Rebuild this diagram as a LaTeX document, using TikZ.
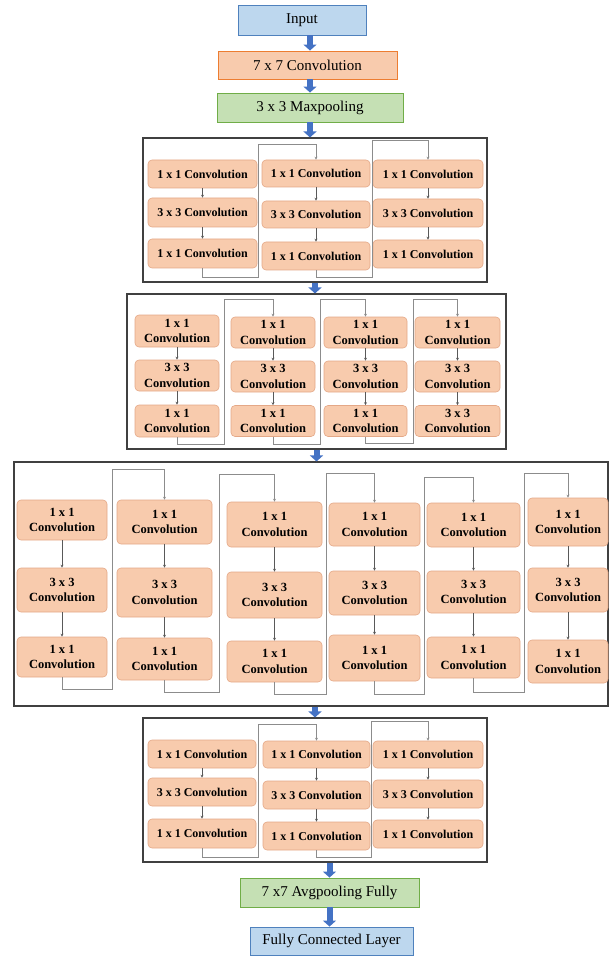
\documentclass[tikz,border=0pt]{standalone}
\usepackage{fontspec}
\setmainfont{Liberation Serif}
\usetikzlibrary{arrows.meta}
\definecolor{convfill}{HTML}{F8CBAD}
\definecolor{convline}{HTML}{ED7D31}
\definecolor{convedge}{HTML}{E4A887}
\definecolor{poolfill}{HTML}{C5E0B4}
\definecolor{poolline}{HTML}{70AD47}
\definecolor{infill}{HTML}{BDD7EE}
\definecolor{inline}{HTML}{4F81BD}
\definecolor{arrowblue}{HTML}{4472C4}

\tikzset{
  topbox/.style={draw, line width=0.9pt, inner sep=0pt, font=\fontsize{15}{17}\selectfont},
  inbox/.style={topbox, fill=infill, draw=inline},
  convtop/.style={topbox, fill=convfill, draw=convline},
  poolbox/.style={topbox, fill=poolfill, draw=poolline},
  layer/.style={fill=convfill, draw=convedge, line width=0.6pt, rounded corners=4pt, inner sep=0pt,
    font=\fontsize{12}{14}\selectfont\bfseries},
  layertwo/.style={layer, align=center, font=\fontsize{12.5}{15.5}\selectfont\bfseries},
  stage/.style={draw=black!75, line width=1.1pt, inner sep=0pt},
  bigarrow/.style={draw=arrowblue, line width=6pt, -{Triangle[length=6pt,width=13pt]}},
  flow/.style={draw=black!65, line width=0.6pt, -{Stealth[length=3pt,width=3pt]}},
  skip/.style={draw=black!45, line width=0.7pt, -{Stealth[length=3pt,width=3pt]}}
}

\begin{document}
\begin{tikzpicture}[x=1pt,y=-1pt]
  \useasboundingbox (0,0) rectangle (609,957);

  % input and stem
  \node[inbox, minimum width=128pt, minimum height=30pt] (in) at (302,20) {Input};
  \node[convtop, minimum width=179pt, minimum height=28pt] (c7) at (307.5,65) {7 x 7 Convolution};
  \node[poolbox, minimum width=186pt, minimum height=29pt] (mp) at (310,107.5) {3 x 3 Maxpooling};

  % stage frames
  \node[stage, minimum width=344pt, minimum height=144pt] (B1) at (315,210) {};
  \node[stage, minimum width=379pt, minimum height=155pt] (B2) at (316.5,371.5) {};
  \node[stage, minimum width=594pt, minimum height=244pt] (B3) at (311,584) {};
  \node[stage, minimum width=344pt, minimum height=144pt] (B4) at (315,790) {};

  % stage 1
  \node[layer, minimum width=109pt, minimum height=28pt] (s1a1) at (202.5,174) {1 x 1 Convolution};
  \node[layer, minimum width=109pt, minimum height=29pt] (s1a2) at (202.5,212.5) {3 x 3 Convolution};
  \node[layer, minimum width=109pt, minimum height=29pt] (s1a3) at (202.5,253.5) {1 x 1 Convolution};
  \node[layer, minimum width=108pt, minimum height=27pt] (s1b1) at (316,173.5) {1 x 1 Convolution};
  \node[layer, minimum width=108pt, minimum height=27pt] (s1b2) at (316,214.5) {3 x 3 Convolution};
  \node[layer, minimum width=108pt, minimum height=28pt] (s1b3) at (316,256) {1 x 1 Convolution};
  \node[layer, minimum width=110pt, minimum height=28pt] (s1c1) at (428,174) {1 x 1 Convolution};
  \node[layer, minimum width=110pt, minimum height=28pt] (s1c2) at (428,213) {3 x 3 Convolution};
  \node[layer, minimum width=110pt, minimum height=28pt] (s1c3) at (428,254) {1 x 1 Convolution};
  \draw[flow] (s1a1) -- (s1a2);
  \draw[flow] (s1a2) -- (s1a3);
  \draw[flow] (s1b1) -- (s1b2);
  \draw[flow] (s1b2) -- (s1b3);
  \draw[flow] (s1c1) -- (s1c2);
  \draw[flow] (s1c2) -- (s1c3);
  \draw[skip] (s1a3.south) |- (258,277) -- (258,144) -| (s1b1.north);
  \draw[skip] (s1b3.south) |- (372,277) -- (372,140) -| (s1c1.north);

  % stage 2
  \node[layertwo, minimum width=84pt, minimum height=32pt] (s2a1) at (177,331) {1 x 1\\Convolution};
  \node[layertwo, minimum width=84pt, minimum height=31pt] (s2a2) at (177,375.5) {3 x 3\\Convolution};
  \node[layertwo, minimum width=84pt, minimum height=32pt] (s2a3) at (177,421) {1 x 1\\Convolution};
  \node[layertwo, minimum width=84pt, minimum height=31pt] (s2b1) at (273,332.5) {1 x 1\\Convolution};
  \node[layertwo, minimum width=84pt, minimum height=31pt] (s2b2) at (273,376.5) {3 x 3\\Convolution};
  \node[layertwo, minimum width=84pt, minimum height=31pt] (s2b3) at (273,421) {1 x 1\\Convolution};
  \node[layertwo, minimum width=83pt, minimum height=31pt] (s2c1) at (365.5,332.5) {1 x 1\\Convolution};
  \node[layertwo, minimum width=83pt, minimum height=31pt] (s2c2) at (365.5,376.5) {3 x 3\\Convolution};
  \node[layertwo, minimum width=83pt, minimum height=31pt] (s2c3) at (365.5,421) {1 x 1\\Convolution};
  \node[layertwo, minimum width=85pt, minimum height=31pt] (s2d1) at (457.5,332.5) {1 x 1\\Convolution};
  \node[layertwo, minimum width=85pt, minimum height=31pt] (s2d2) at (457.5,376.5) {3 x 3\\Convolution};
  \node[layertwo, minimum width=85pt, minimum height=31pt] (s2d3) at (457.5,421) {3 x 3\\Convolution};
  \draw[flow] (s2a1) -- (s2a2);
  \draw[flow] (s2a2) -- (s2a3);
  \draw[flow] (s2b1) -- (s2b2);
  \draw[flow] (s2b2) -- (s2b3);
  \draw[flow] (s2c1) -- (s2c2);
  \draw[flow] (s2c2) -- (s2c3);
  \draw[flow] (s2d1) -- (s2d2);
  \draw[flow] (s2d2) -- (s2d3);
  \draw[skip] (s2a3.south) |- (224,444) -- (224,299) -| (s2b1.north);
  \draw[skip] (s2b3.south) |- (320,444) -- (320,299) -| (s2c1.north);
  \draw[skip] (s2c3.south) |- (413,443) -- (413,299) -| (s2d1.north);

  % stage 3
  \node[layertwo, minimum width=90pt, minimum height=40pt] (s3a1) at (62,520) {1 x 1\\Convolution};
  \node[layertwo, minimum width=90pt, minimum height=44pt] (s3a2) at (62,590) {3 x 3\\Convolution};
  \node[layertwo, minimum width=90pt, minimum height=40pt] (s3a3) at (62,657) {1 x 1\\Convolution};
  \node[layertwo, minimum width=95pt, minimum height=44pt] (s3b1) at (164.5,522) {1 x 1\\Convolution};
  \node[layertwo, minimum width=95pt, minimum height=49pt] (s3b2) at (164.5,592.5) {3 x 3\\Convolution};
  \node[layertwo, minimum width=95pt, minimum height=42pt] (s3b3) at (164.5,659) {1 x 1\\Convolution};
  \node[layertwo, minimum width=95pt, minimum height=45pt] (s3c1) at (274.5,524.5) {1 x 1\\Convolution};
  \node[layertwo, minimum width=95pt, minimum height=46pt] (s3c2) at (274.5,595) {3 x 3\\Convolution};
  \node[layertwo, minimum width=95pt, minimum height=41pt] (s3c3) at (274.5,661.5) {1 x 1\\Convolution};
  \node[layertwo, minimum width=91pt, minimum height=43pt] (s3d1) at (374.5,524.5) {1 x 1\\Convolution};
  \node[layertwo, minimum width=91pt, minimum height=44pt] (s3d2) at (374.5,593) {3 x 3\\Convolution};
  \node[layertwo, minimum width=91pt, minimum height=46pt] (s3d3) at (374.5,658) {1 x 1\\Convolution};
  \node[layertwo, minimum width=93pt, minimum height=44pt] (s3e1) at (473.5,525) {1 x 1\\Convolution};
  \node[layertwo, minimum width=93pt, minimum height=42pt] (s3e2) at (473.5,592) {3 x 3\\Convolution};
  \node[layertwo, minimum width=93pt, minimum height=41pt] (s3e3) at (473.5,657.5) {1 x 1\\Convolution};
  \node[layertwo, minimum width=80pt, minimum height=48pt] (s3f1) at (568,522) {1 x 1\\Convolution};
  \node[layertwo, minimum width=80pt, minimum height=44pt] (s3f2) at (568,590) {3 x 3\\Convolution};
  \node[layertwo, minimum width=80pt, minimum height=43pt] (s3f3) at (568,661.5) {1 x 1\\Convolution};
  \draw[flow] (s3a1) -- (s3a2);
  \draw[flow] (s3a2) -- (s3a3);
  \draw[flow] (s3b1) -- (s3b2);
  \draw[flow] (s3b2) -- (s3b3);
  \draw[flow] (s3c1) -- (s3c2);
  \draw[flow] (s3c2) -- (s3c3);
  \draw[flow] (s3d1) -- (s3d2);
  \draw[flow] (s3d2) -- (s3d3);
  \draw[flow] (s3e1) -- (s3e2);
  \draw[flow] (s3e2) -- (s3e3);
  \draw[flow] (s3f1) -- (s3f2);
  \draw[flow] (s3f2) -- (s3f3);
  \draw[skip] (s3a3.south) |- (112,689) -- (112,469) -| (s3b1.north);
  \draw[skip] (s3b3.south) |- (219,692) -- (219,474) -| (s3c1.north);
  \draw[skip] (s3c3.south) |- (326,694) -- (326,473) -| (s3d1.north);
  \draw[skip] (s3d3.south) |- (424,694) -- (424,477) -| (s3e1.north);
  \draw[skip] (s3e3.south) |- (524,692) -- (524,473) -| (s3f1.north);

  % stage 4
  \node[layer, minimum width=108pt, minimum height=28pt] (s4a1) at (202,754) {1 x 1 Convolution};
  \node[layer, minimum width=108pt, minimum height=28pt] (s4a2) at (202,792) {3 x 3 Convolution};
  \node[layer, minimum width=108pt, minimum height=29pt] (s4a3) at (202,833.5) {1 x 1 Convolution};
  \node[layer, minimum width=107pt, minimum height=27pt] (s4b1) at (316.5,754.5) {1 x 1 Convolution};
  \node[layer, minimum width=107pt, minimum height=28pt] (s4b2) at (316.5,795) {3 x 3 Convolution};
  \node[layer, minimum width=107pt, minimum height=28pt] (s4b3) at (316.5,836) {1 x 1 Convolution};
  \node[layer, minimum width=110pt, minimum height=27pt] (s4c1) at (428,754.5) {1 x 1 Convolution};
  \node[layer, minimum width=110pt, minimum height=28pt] (s4c2) at (428,794) {3 x 3 Convolution};
  \node[layer, minimum width=110pt, minimum height=28pt] (s4c3) at (428,834) {1 x 1 Convolution};
  \draw[flow] (s4a1) -- (s4a2);
  \draw[flow] (s4a2) -- (s4a3);
  \draw[flow] (s4b1) -- (s4b2);
  \draw[flow] (s4b2) -- (s4b3);
  \draw[flow] (s4c1) -- (s4c2);
  \draw[flow] (s4c2) -- (s4c3);
  \draw[skip] (s4a3.south) |- (258,857) -- (258,724) -| (s4b1.north);
  \draw[skip] (s4b3.south) |- (371,857) -- (371,721) -| (s4c1.north);

  % head
  \node[poolbox, minimum width=179pt, minimum height=29pt] (avg) at (329.5,892.5) {7 x7 Avgpooling Fully};
  \node[inbox, minimum width=163pt, minimum height=28pt] (fc) at (331.5,941) {Fully Connected Layer};

  % block arrows
  \draw[bigarrow] (in.south -| mp.north) -- (c7.north -| mp.north);
  \draw[bigarrow] (c7.south -| mp.north) -- (mp.north);
  \draw[bigarrow] (mp.south) -- (mp.south |- B1.north);
  \draw[bigarrow] (B1.south) -- (B1.south |- B2.north);
  \draw[bigarrow] (B2.south) -- (B2.south |- B3.north);
  \draw[bigarrow] (B4.north |- B3.south) -- (B4.north);
  \draw[bigarrow] (avg.north |- B4.south) -- (avg.north);
  \draw[bigarrow] (avg.south) -- (avg.south |- fc.north);
\end{tikzpicture}
\end{document}
